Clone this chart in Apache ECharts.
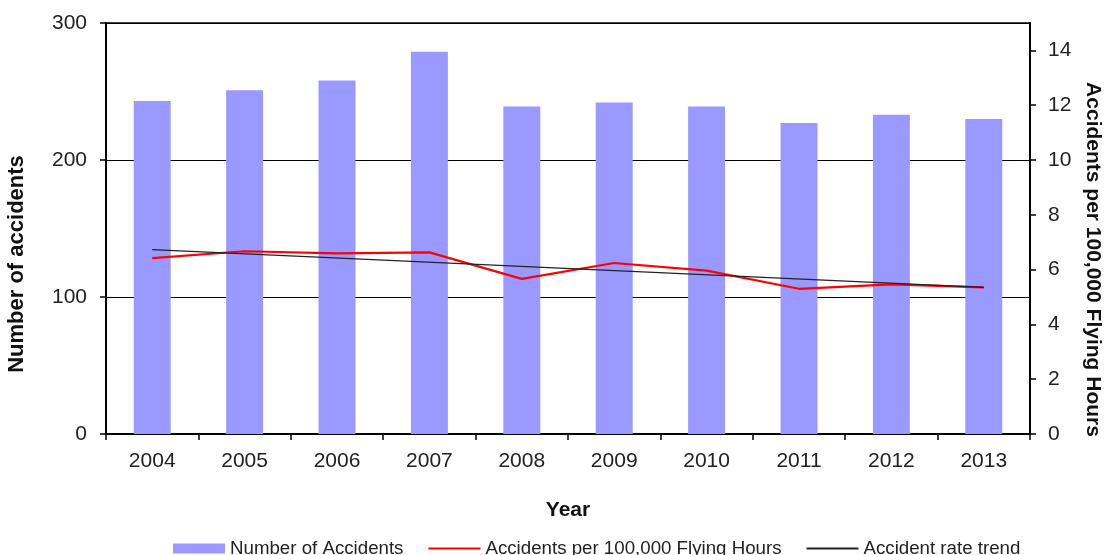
<!DOCTYPE html>
<html>
<head>
<meta charset="utf-8">
<script src="https://cdn.jsdelivr.net/npm/echarts@6/dist/echarts.min.js"></script>
<style>
  html, body { margin: 0; padding: 0; background: #fff; }
  #chart { width: 1104px; height: 555px; }
</style>
</head>
<body>
<div id="chart"></div>
<script>
// Yearly accident counts and rates
const years = ['2004', '2005', '2006', '2007', '2008', '2009', '2010', '2011', '2012', '2013'];
const accidentCounts = [243, 251, 258, 279, 239, 242, 239, 227, 233, 230];
const ratePer100k = [6.42, 6.67, 6.59, 6.63, 5.66, 6.24, 5.96, 5.30, 5.46, 5.35];
// Straight trend line: start and end points
const trendPoints = [['2004', 6.73], ['2013', 5.35]];
const countTicks = [0, 100, 200, 300];
const rateTicks = [0, 2, 4, 6, 8, 10, 12, 14];

const FONT = 'Liberation Sans, Arial, sans-serif';
const chart = echarts.init(document.getElementById('chart'));

// legend swatch for line series: plain line, no marker
const lineOnly = { opacity: 0, color: 'rgba(0,0,0,0)', borderWidth: 0 };

chart.setOption({
  animation: false,
  textStyle: { fontFamily: FONT },
  grid: {
    left: 106, right: 74, top: 23, bottom: 121,
    outerBoundsMode: 'none',
    containLabel: false,
    show: true, borderColor: '#000', borderWidth: 1.5, backgroundColor: 'transparent'
  },
  legend: {
    left: 173, top: 539, padding: 0,
    itemWidth: 52, itemHeight: 10, itemGap: 24, itemTextGap: 5,
    textStyle: { fontFamily: FONT, fontSize: 18.7, color: '#222' },
    data: [
      { name: 'Number of Accidents', icon: 'rect' },
      { name: 'Accidents per 100,000 Flying Hours', itemStyle: lineOnly },
      { name: 'Accident rate trend', itemStyle: lineOnly }
    ]
  },
  xAxis: {
    type: 'category',
    data: years,
    boundaryGap: true,
    name: 'Year',
    nameLocation: 'middle',
    nameGap: 66,
    nameTextStyle: { fontFamily: FONT, fontSize: 21, fontWeight: 'bold', color: '#111' },
    axisLine: { lineStyle: { color: '#000', width: 2 } },
    axisTick: { show: true, length: 6, lineStyle: { color: '#000', width: 1.5 } },
    axisLabel: { fontFamily: FONT, fontSize: 21, color: '#222', margin: 17 },
    splitLine: { show: false }
  },
  yAxis: [
    {
      type: 'value',
      min: 0, max: 300, interval: 100,
      name: 'Number of accidents',
      nameLocation: 'middle',
      nameGap: 78,
      nameTextStyle: {
        fontFamily: FONT, fontSize: 22, fontWeight: 'bold', color: '#111',
        padding: [0, 71, 0, 0]
      },
      axisLine: { show: true, lineStyle: { color: '#000', width: 2 } },
      axisTick: { show: true, length: 6, lineStyle: { color: '#000', width: 1.5 } },
      axisLabel: {
        fontFamily: FONT, fontSize: 21, color: '#222', margin: 19,
        customValues: countTicks
      },
      splitLine: { show: true, lineStyle: { color: '#000', width: 1 } }
    },
    {
      type: 'value',
      min: 0, max: 15, interval: 2,
      position: 'right',
      name: 'Accidents per 100,000 Flying Hours',
      nameLocation: 'middle',
      nameGap: 48,
      nameRotate: -90,
      nameTextStyle: {
        fontFamily: FONT, fontSize: 21, fontWeight: 'bold', color: '#111',
        padding: [0, 0, 0, 62]
      },
      axisLine: { show: true, lineStyle: { color: '#000', width: 2 } },
      axisTick: {
        show: true, length: 6, lineStyle: { color: '#000', width: 1.5 },
        customValues: rateTicks
      },
      axisLabel: {
        fontFamily: FONT, fontSize: 21, color: '#222', margin: 18,
        customValues: rateTicks
      },
      splitLine: { show: false }
    }
  ],
  series: [
    {
      name: 'Number of Accidents',
      type: 'bar',
      yAxisIndex: 0,
      data: accidentCounts,
      barWidth: '40%',
      itemStyle: { color: '#9999FF' },
      z: 1
    },
    {
      name: 'Accidents per 100,000 Flying Hours',
      type: 'line',
      yAxisIndex: 1,
      data: ratePer100k,
      symbol: 'none',
      lineStyle: { color: '#FF0000', width: 2.2 },
      itemStyle: { color: '#FF0000' },
      z: 3
    },
    {
      name: 'Accident rate trend',
      type: 'line',
      yAxisIndex: 1,
      data: trendPoints,
      symbol: 'none',
      lineStyle: { color: '#222', width: 1.2 },
      itemStyle: { color: '#222' },
      z: 4
    }
  ]
});
</script>
</body>
</html>
